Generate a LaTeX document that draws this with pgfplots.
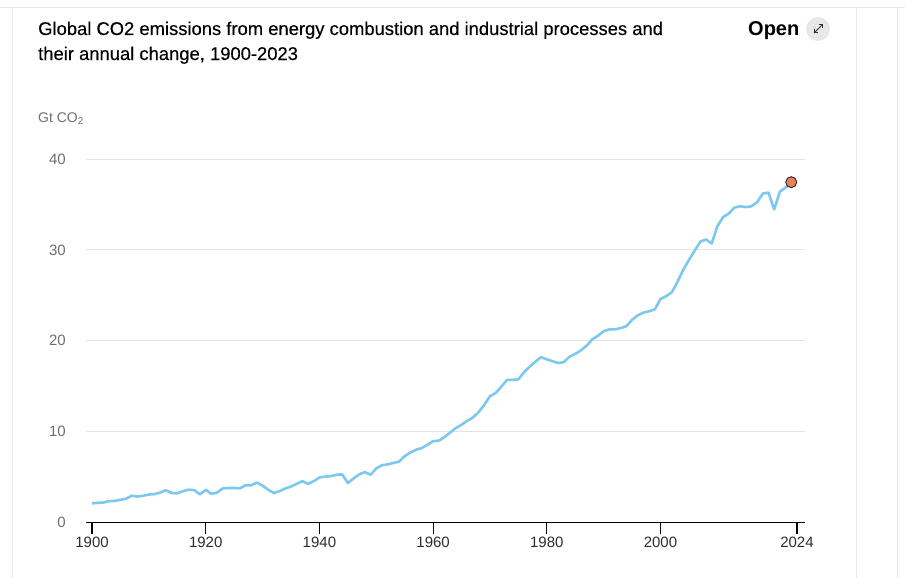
\documentclass[border=0pt]{standalone}
\usepackage{fontspec}
\setmainfont{Liberation Sans}
\newfontfamily\titlefont[FakeBold=0.25]{Liberation Sans}
\usepackage{pgfplots}
\pgfplotsset{compat=1.18}
\definecolor{lineblue}{RGB}{125,200,240}
\definecolor{dotorange}{RGB}{232,128,90}
\definecolor{gridgray}{RGB}{228,228,228}
\definecolor{framegray}{RGB}{232,232,232}
\definecolor{labelgray}{RGB}{110,110,110}
\definecolor{ticktext}{RGB}{45,45,45}

\begin{document}
\begin{tikzpicture}
\path[use as bounding box] (0,0) rectangle (905pt,-578pt);
% page frame
\draw[framegray, line width=1pt] (0,-8pt) -- (905pt,-8pt);
\draw[framegray, line width=1pt] (12.7pt,-8pt) -- (12.7pt,-578pt);
\draw[framegray, line width=1pt] (856.7pt,-8pt) -- (856.7pt,-578pt);
\draw[framegray, line width=1pt] (897.3pt,-8pt) -- (897.3pt,-578pt);

% title
\node[anchor=base west, inner sep=0pt, font=\titlefont\fontsize{18.4}{25}\selectfont]
  at (38pt,-35pt) {Global CO2 emissions from energy combustion and industrial processes and};
\node[anchor=base west, inner sep=0pt, font=\titlefont\fontsize{18.4}{25}\selectfont]
  at (38pt,-60pt) {their annual change, 1900-2023};
\node[anchor=base west, inner sep=0pt, font=\bfseries\fontsize{20}{24}\selectfont] at (748pt,-36pt) {Open};
\fill[framegray] (818pt,-29pt) circle (12pt);
\begin{scope}[shift={(818pt,-29pt)}, line width=1pt, black!80]
  \draw (-4pt,-4pt) -- (4pt,4pt);
  \draw (0.5pt,4pt) -- (4pt,4pt) -- (4pt,0.5pt);
  \draw (-0.5pt,-4pt) -- (-4pt,-4pt) -- (-4pt,-0.5pt);
\end{scope}
\node[anchor=base west, inner sep=0pt, text=labelgray, font=\fontsize{14}{16}\selectfont]
  at (38pt,-122pt) {Gt CO\textsubscript{2}};

\begin{axis}[
  at={(86pt,-522.5pt)}, anchor=south west,
  scale only axis,
  width=719pt, height=363.5pt,
  xmin=1898.94, xmax=2025.42,
  ymin=0, ymax=40,
  clip=false,
  axis x line*=bottom,
  axis y line*=left,
  y axis line style={draw=none},
  x axis line style={black, line width=1.3pt},
  xtick={1900,1920,1940,1960,1980,2000,2024},
  ytick={0,10,20,30,40},
  tick align=outside,
  major tick length=11pt,
  xtick style={black, line width=1.2pt},
  ytick style={draw=none},
  ymajorgrids,
  major grid style={gridgray, line width=1pt},
  /pgf/number format/assume math mode=true,
  xticklabel style={/pgf/number format/1000 sep={}, text=ticktext,
    font=\fontsize{15}{17}\selectfont, inner sep=0pt, yshift=-3pt},
  yticklabel style={text=labelgray, font=\fontsize{15}{17}\selectfont,
    inner sep=0pt, anchor=east, xshift=-9pt},
]
\addplot[lineblue, line width=2.6pt, line join=round] coordinates {
(1900,2.10) (1901,2.17) (1902,2.20) (1903,2.35) (1904,2.38) (1905,2.50)
(1906,2.62) (1907,2.95) (1908,2.85) (1909,2.95) (1910,3.08) (1911,3.12)
(1912,3.30) (1913,3.55) (1914,3.25) (1915,3.20) (1916,3.45) (1917,3.62)
(1918,3.55) (1919,3.10) (1920,3.60) (1921,3.15) (1922,3.30) (1923,3.75)
(1924,3.80) (1925,3.80) (1926,3.75) (1927,4.10) (1928,4.10) (1929,4.40)
(1930,4.05) (1931,3.60) (1932,3.25) (1933,3.45) (1934,3.75) (1935,3.95)
(1936,4.25) (1937,4.55) (1938,4.25) (1939,4.55) (1940,4.95) (1941,5.05)
(1942,5.10) (1943,5.25) (1944,5.30) (1945,4.35) (1946,4.85) (1947,5.30)
(1948,5.55) (1949,5.25) (1950,5.95) (1951,6.30) (1952,6.40) (1953,6.55)
(1954,6.70) (1955,7.30) (1956,7.70) (1957,8.00) (1958,8.20) (1959,8.55)
(1960,8.95) (1961,9.00) (1962,9.40) (1963,9.90) (1964,10.40) (1965,10.75)
(1966,11.20) (1967,11.55) (1968,12.15) (1969,12.95) (1970,13.90) (1971,14.25)
(1972,14.95) (1973,15.70) (1974,15.70) (1975,15.75) (1976,16.55) (1977,17.15)
(1978,17.70) (1979,18.20) (1980,17.95) (1981,17.75) (1982,17.55) (1983,17.65)
(1984,18.25) (1985,18.55) (1986,18.95) (1987,19.45) (1988,20.15) (1989,20.55)
(1990,21.05) (1991,21.25) (1992,21.25) (1993,21.40) (1994,21.60) (1995,22.30)
(1996,22.80) (1997,23.10) (1998,23.25) (1999,23.45) (2000,24.60) (2001,24.90)
(2002,25.35) (2003,26.50) (2004,27.80) (2005,28.90) (2006,29.90) (2007,30.90)
(2008,31.15) (2009,30.70) (2010,32.60) (2011,33.60) (2012,34.00) (2013,34.65)
(2014,34.80) (2015,34.70) (2016,34.80) (2017,35.25) (2018,36.20) (2019,36.30)
(2020,34.45) (2021,36.40) (2022,36.85) (2023,37.45)
};
\addplot[only marks, mark=*, mark size=5.5pt,
  mark options={fill=dotorange, draw=black!85, line width=0.9pt}]
  coordinates {(2023,37.45)};
\end{axis}
\end{tikzpicture}
\end{document}
